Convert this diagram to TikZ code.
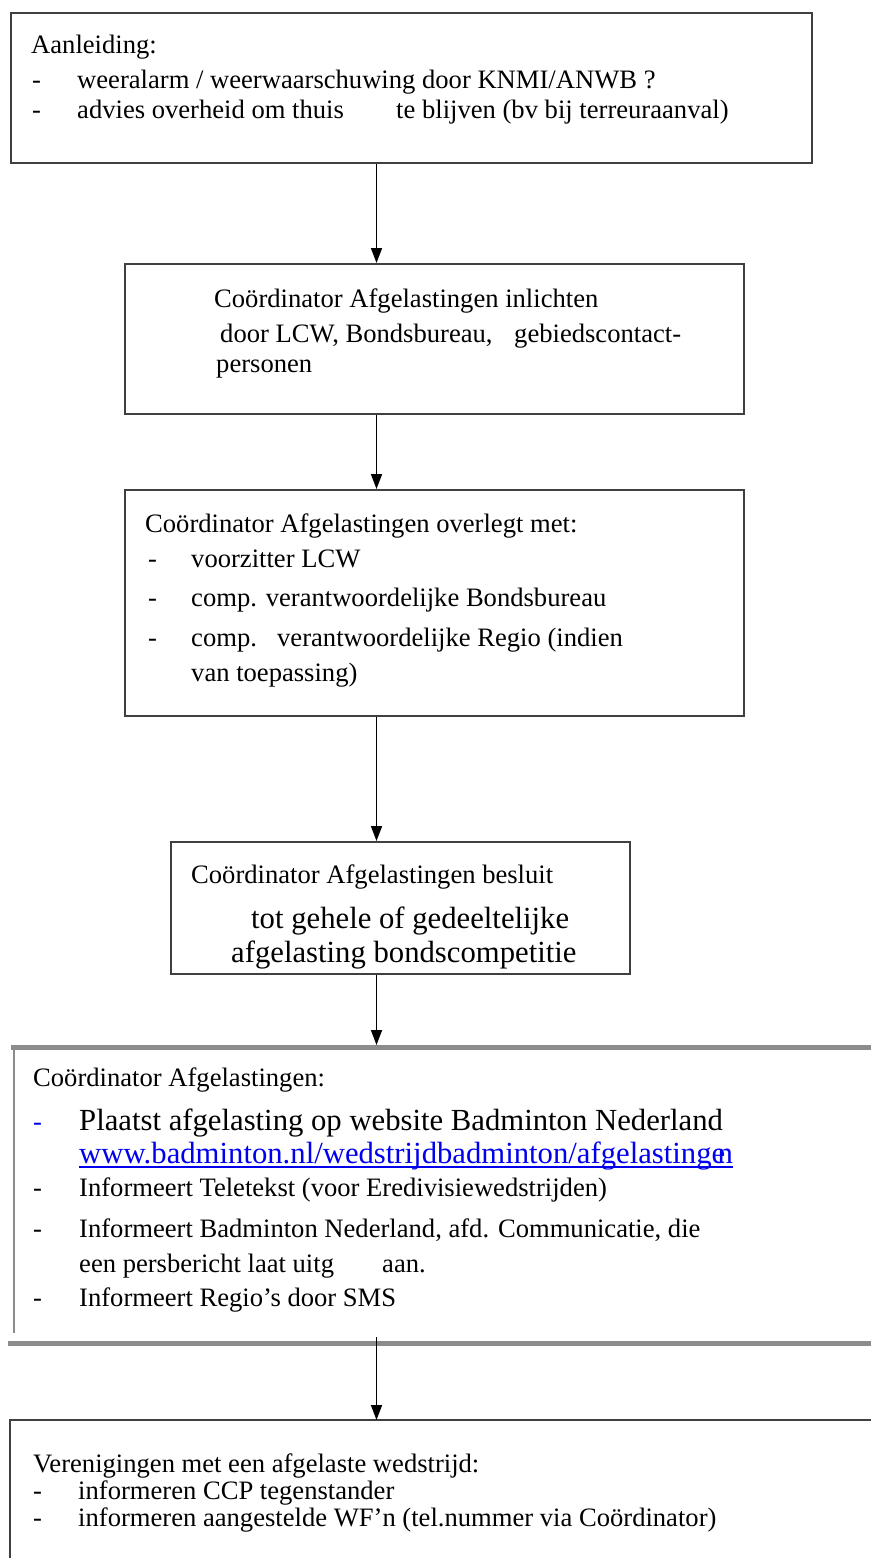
\documentclass[tikz,border=0pt]{standalone}
\usepackage{fontspec}
\setmainfont{Liberation Serif}
\usetikzlibrary{arrows.meta}
\definecolor{boxline}{HTML}{404040}
\definecolor{greyline}{HTML}{8C8C8C}
\definecolor{linkblue}{HTML}{0000EE}
\begin{document}
\begin{tikzpicture}[x=1pt,y=-1pt,
  box/.style={draw=boxline, line width=1.8pt, inner sep=0pt, anchor=north west},
  openbox/.style={inner sep=0pt, anchor=north west},
  txt/.style={anchor=base west, inner sep=0pt, font=\fontsize{26.6}{30}\selectfont},
  big/.style={anchor=base west, inner sep=0pt, font=\fontsize{30.7}{34}\selectfont},
  arr/.style={line width=1.6pt, -{Triangle[length=15pt,width=11pt]}}
]
\useasboundingbox (0,0) rectangle (871,1558);
\fill[white] (0,0) rectangle (871,1558);

% boxes
\node[box, minimum width=801pt, minimum height=150pt] (b1) at (10,12) {};
\node[box, minimum width=619pt, minimum height=150pt] (b2) at (124,263) {};
\node[box, minimum width=619pt, minimum height=226pt] (b3) at (124,489) {};
\node[box, minimum width=459pt, minimum height=132pt] (b4) at (170,841) {};
\node[openbox, minimum width=857pt, minimum height=296pt] (b5) at (14,1047) {};
\node[openbox, minimum width=861pt, minimum height=138pt] (b6) at (10,1420) {};

% open box 5 (grey frame, open to the right)
\draw[greyline, line width=5pt] ([xshift=-3pt]b5.north west) -- (b5.north east);
\draw[greyline, line width=1.6pt] (b5.north west) -- ([yshift=10pt]b5.south west);
\draw[greyline, line width=5pt] ([xshift=-6pt]b5.south west) -- (b5.south east);
% open box 6
\draw[boxline, line width=1.8pt] (b6.south west) -- (b6.north west) -- (b6.north east);

% connectors
\coordinate (ax) at (376.5,0);
\draw[arr] (b1.south -| ax) -- (b2.north -| ax);
\draw[arr] (b2.south -| ax) -- (b3.north -| ax);
\draw[arr] (b3.south -| ax) -- (b4.north -| ax);
\draw[arr] (b4.south -| ax) -- ([yshift=2pt]b5.north -| ax);
\path (b5.south -| ax) ++(0,-6) coordinate (a5s);
\draw[arr] (a5s) -- (b6.north -| ax);

% box 1 text
\node[txt] (t1a) at (31,53) {Aanleiding:};
\node[txt] (t1b) at (32,88) {-};
\node[txt] (t1c) at (77,88) {weeralarm / weerwaarschuwing door KNMI/ANWB ?};
\node[txt] (t1d) at (32,118) {-};
\node[txt] (t1e) at (77,118) {\makebox[319pt][l]{advies overheid om thuis}te blijven (bv bij terreuraanval)};

% box 2 text
\node[txt] (t2a) at (214,307) {Coördinator Afgelastingen inlichten};
\node[txt] (t2b) at (220,342) {\makebox[294pt][l]{door LCW, Bondsbureau,}gebiedscontact-};
\node[txt] (t2c) at (216,372) {personen};

% box 3 text
\node[txt] (t3a) at (145,532) {Coördinator Afgelastingen overlegt met:};
\node[txt] (t3b) at (148,567) {-};
\node[txt] (t3c) at (191,567) {voorzitter LCW};
\node[txt] (t3d) at (148,606) {-};
\node[txt] (t3e) at (191,606) {comp. verantwoordelijke Bondsbureau};
\node[txt] (t3f) at (148,646) {-};
\node[txt] (t3g) at (191,646) {\makebox[86pt][l]{comp.}verantwoordelijke Regio (indien};
\node[txt] (t3h) at (191,681) {van toepassing)};

% box 4 text
\node[txt] (t4a) at (191,883) {Coördinator Afgelastingen besluit};
\node[big] (t4b) at (251,928) {tot gehele of gedeeltelijke};
\node[big] (t4c) at (231,962) {afgelasting bondscompetitie};

% box 5 text
\node[txt] (t5a) at (33,1086) {Coördinator Afgelastingen:};
\node[txt, text=linkblue] (t5b) at (33,1130) {-};
\node[big] (t5c) at (79,1130) {Plaatst afgelasting op website Badminton Nederland};
\node[big, text=linkblue] (t5d) at (79,1163) {www.badminton.nl/wedstrijdbadminton/afgelasting{e}\kern-0.25em n};
\draw[linkblue, line width=1.8pt] ([yshift=-4pt]t5d.base west) -- ([yshift=-4pt]t5d.base east);
\node[txt] (t5e) at (33,1196) {-};
\node[txt] (t5f) at (79,1196) {Informeert Teletekst (voor Eredivisiewedstrijden)};
\node[txt] (t5g) at (33,1237) {-};
\node[txt] (t5h) at (79,1237) {Informeert Badminton Nederland, afd. Communicatie, die};
\node[txt] (t5i) at (79,1272) {\makebox[303pt][l]{een persbericht laat uitg}aan.};
\node[txt] (t5j) at (33,1306) {-};
\node[txt] (t5k) at (79,1306) {Informeert Regio’s door SMS};

% box 6 text
\node[txt] (t6a) at (33,1472) {Verenigingen met een afgelaste wedstrijd:};
\node[txt] (t6b) at (33,1499) {-};
\node[txt] (t6c) at (78,1499) {informeren CCP tegenstander};
\node[txt] (t6d) at (33,1526) {-};
\node[txt] (t6e) at (78,1526) {informeren aangestelde WF’n (tel.nummer via Coördinator)};
\end{tikzpicture}
\end{document}
